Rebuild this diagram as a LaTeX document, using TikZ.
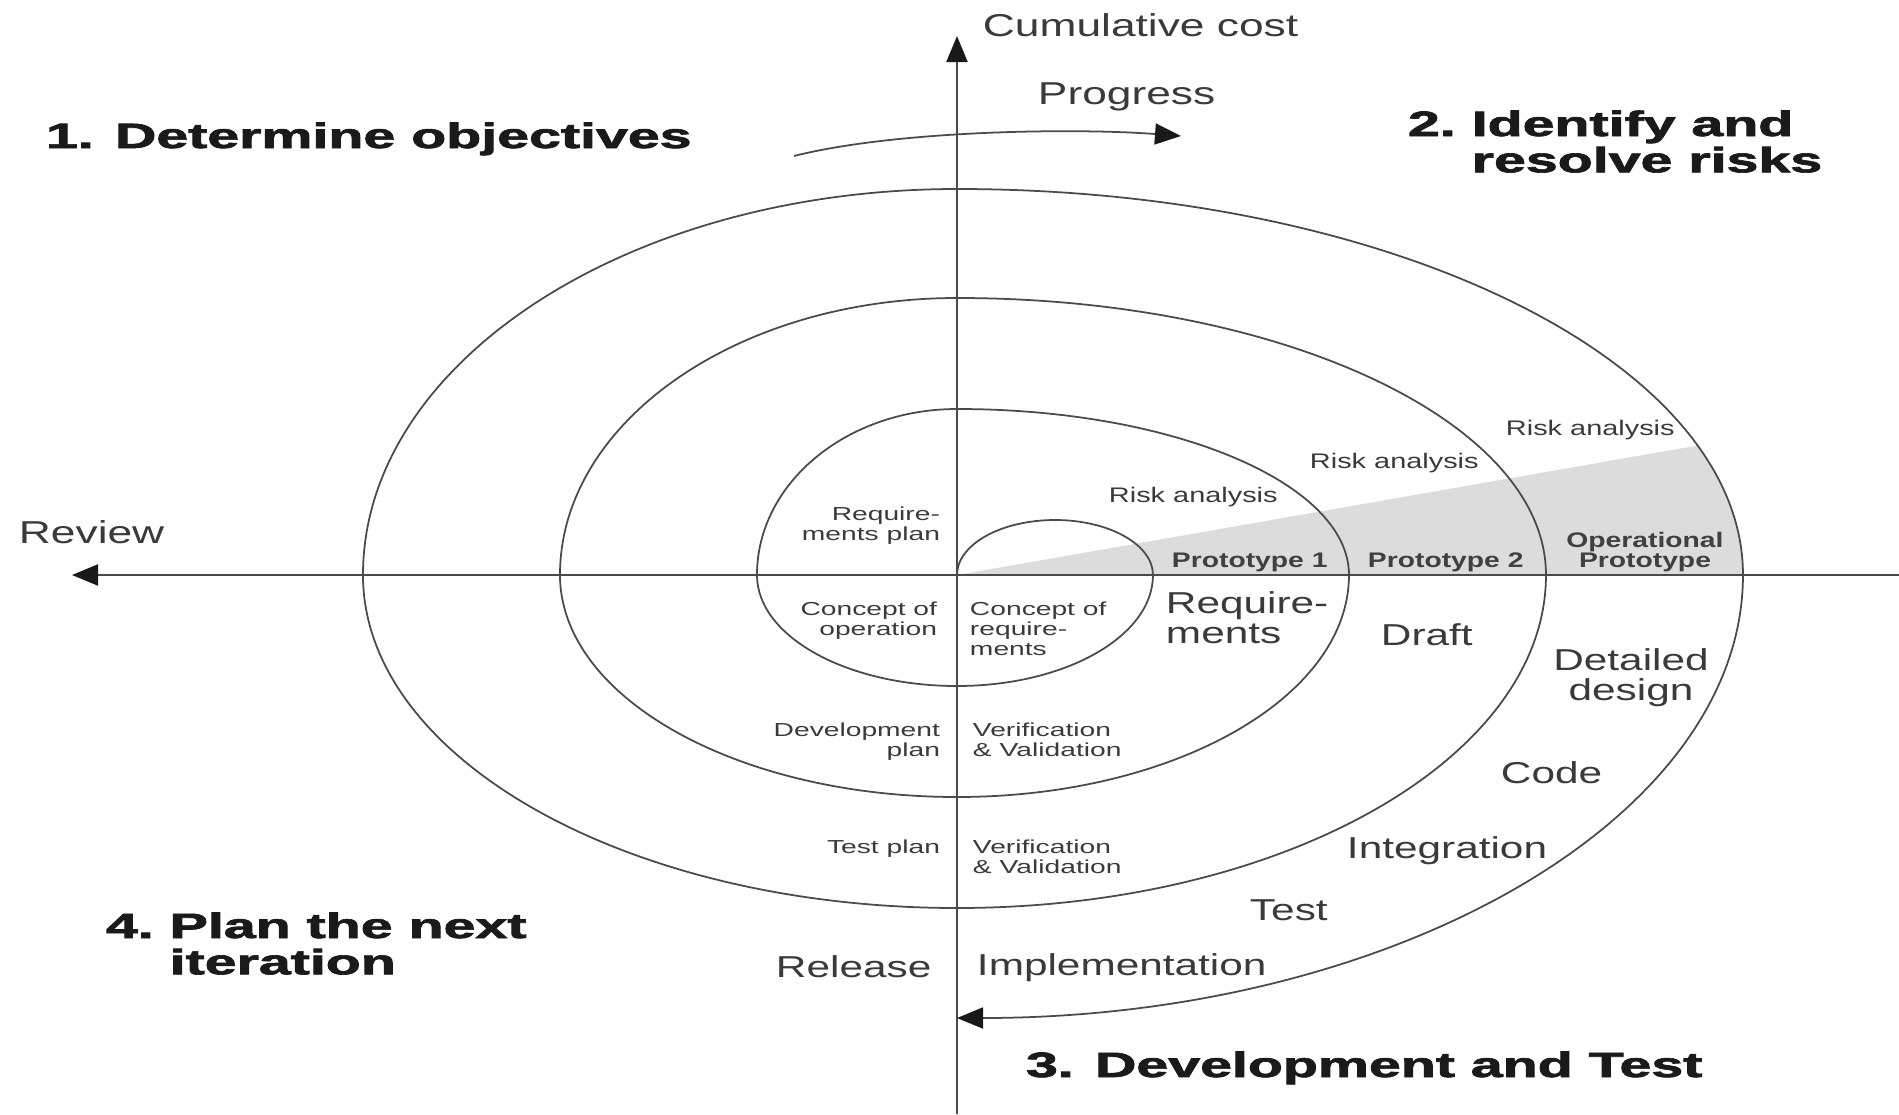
\documentclass[tikz,border=0pt]{standalone}
\usepackage{fontspec}
\setmainfont{Liberation Sans}
\newfontfamily\headfont{Liberation Sans Bold}[FakeBold=1.8]
\usetikzlibrary{arrows.meta}
\definecolor{txt}{HTML}{3A3A3A}
\definecolor{headc}{HTML}{1A1A1A}
\definecolor{linec}{HTML}{4A4A4A}
\definecolor{wedgec}{HTML}{DCDCDC}
\definecolor{protoc}{HTML}{404040}
\newcommand\llines[1]{\begin{tabular}[t]{@{}l@{}}#1\end{tabular}}
\newcommand\rlines[1]{\begin{tabular}[t]{@{}r@{}}#1\end{tabular}}
\newcommand\clines[1]{\begin{tabular}[t]{@{}c@{}}#1\end{tabular}}
\tikzset{
  endtri/.style={-{Triangle[length=0.26cm,width=0.21cm,color=black!90]}},
  spiral/.style={draw=linec, line width=0.5pt},
  axisline/.style={draw=linec, line width=0.6pt},
  lbl/.style={inner sep=0pt, outer sep=0pt, text=txt},
  head/.style={lbl, text=headc, font=\headfont\fontsize{10pt}{10.24pt}\selectfont, xscale=1.63},
  toplbl/.style={lbl, font=\fontsize{9pt}{10pt}\selectfont, xscale=1.4},
  big/.style={lbl, font=\fontsize{8.6pt}{8.54pt}\selectfont, xscale=1.4},
  small/.style={lbl, font=\fontsize{5.35pt}{5.7pt}\selectfont, xscale=1.5},
  risk/.style={lbl, font=\fontsize{6pt}{7pt}\selectfont, xscale=1.37},
  proto/.style={lbl, text=protoc, font=\bfseries\fontsize{6pt}{5.4pt}\selectfont, xscale=1.34},
}
\begin{document}
\begin{tikzpicture}[x=0.01cm, y=0.01cm]
\useasboundingbox (-957,-539) rectangle (942,575);
\coordinate (origin) at (0,0);
\coordinate (vbot) at (0,-539);
\coordinate (vtop) at (0,539);
\coordinate (hright) at (942,0);
\coordinate (hleft) at (-885,0);
\coordinate (pstart) at (-163,419);
\coordinate (pend) at (224,439);

% shaded prototype wedge
\fill[wedgec] (origin) -- (740.5,129.5)
  arc[start angle=19.6, end angle=0, x radius=786, y radius=386] -- cycle;

% axes
\draw[axisline, endtri] (vbot) -- (vtop);
\draw[axisline, endtri] (hright) -- (hleft);

% spiral
\draw[spiral, endtri] (origin)
  arc[start angle=180, end angle=0, x radius=98, y radius=55]
  arc[start angle=0, end angle=-90, x radius=196, y radius=111]
  arc[start angle=270, end angle=180, x radius=200, y radius=111]
  arc[start angle=180, end angle=90, x radius=200, y radius=166]
  arc[start angle=90, end angle=0, x radius=392, y radius=166]
  arc[start angle=0, end angle=-90, x radius=392, y radius=222]
  arc[start angle=270, end angle=180, x radius=397, y radius=222]
  arc[start angle=180, end angle=90, x radius=397, y radius=277]
  arc[start angle=90, end angle=0, x radius=589, y radius=277]
  arc[start angle=0, end angle=-90, x radius=589, y radius=333]
  arc[start angle=270, end angle=180, x radius=594, y radius=333]
  arc[start angle=180, end angle=90, x radius=594, y radius=386]
  arc[start angle=90, end angle=0, x radius=786, y radius=386]
  arc[start angle=0, end angle=-90, x radius=786, y radius=443];

% progress arrow
\draw[spiral, endtri] (pstart) .. controls (-60,445) and (120,447) .. (pend);

% axis labels
\node[toplbl, anchor=base west] (cc) at (26,539) {Cumulative cost};
\node[toplbl, anchor=base west] (prog) at (81,471) {Progress};
\node[toplbl, anchor=base west] (rev) at (-938,32) {Review};

% quadrant headings
\node[head, anchor=base west] (h1) at (-911,427) {1. Determine objectives};
\node[head, anchor=base west] (h2) at (451,439) {\begin{tabular}[t]{@{}l@{\ }l@{}}2.&Identify and\\&resolve risks\end{tabular}};
\node[head, anchor=base west] (h3) at (69,-502) {3. Development and Test};
\node[head, anchor=base west] (h4) at (-851,-363) {\begin{tabular}[t]{@{}l@{\ }l@{}}4.&Plan the next\\&iteration\end{tabular}};

% development labels
\node[big, anchor=base west] (rel) at (-181,-402) {Release};
\node[big, anchor=base west] (impl) at (20,-400) {Implementation};
\node[big, anchor=base west] (test) at (293,-345) {Test};
\node[big, anchor=base west] (integ) at (390,-283) {Integration};
\node[big, anchor=base west] (code) at (544,-208) {Code};
\node[big, anchor=base] (dd) at (674,-95) {\clines{Detailed\\design}};
\node[big, anchor=base west] (draft) at (424,-70) {Draft};
\node[big, anchor=base west] (req) at (209,-38) {\llines{Require-\\ments}};

% inner labels
\node[small, anchor=base west] (cor) at (13,-40) {\llines{Concept of\\require-\\ments}};
\node[small, anchor=base east] (coo) at (-20,-40) {\rlines{Concept of\\operation}};
\node[small, anchor=base east] (rp) at (-17,55) {\rlines{Require-\\ments plan}};
\node[small, anchor=base east] (dp) at (-17,-161) {\rlines{Development\\plan}};
\node[small, anchor=base east] (tp) at (-17,-278) {Test plan};
\node[small, anchor=base west] (vv1) at (16,-161) {\llines{Verification\\\& Validation}};
\node[small, anchor=base west] (vv2) at (16,-278) {\llines{Verification\\\& Validation}};

% risk analysis
\node[risk, anchor=base west] (ra1) at (152,73) {Risk analysis};
\node[risk, anchor=base west] (ra2) at (353,107) {Risk analysis};
\node[risk, anchor=base west] (ra3) at (549,140) {Risk analysis};

% prototypes
\node[proto, anchor=base west] (p1) at (215,8) {Prototype 1};
\node[proto, anchor=base west] (p2) at (411,8) {Prototype 2};
\node[proto, anchor=base] (op) at (688,28) {\clines{Operational\\Prototype}};
\end{tikzpicture}
\end{document}
